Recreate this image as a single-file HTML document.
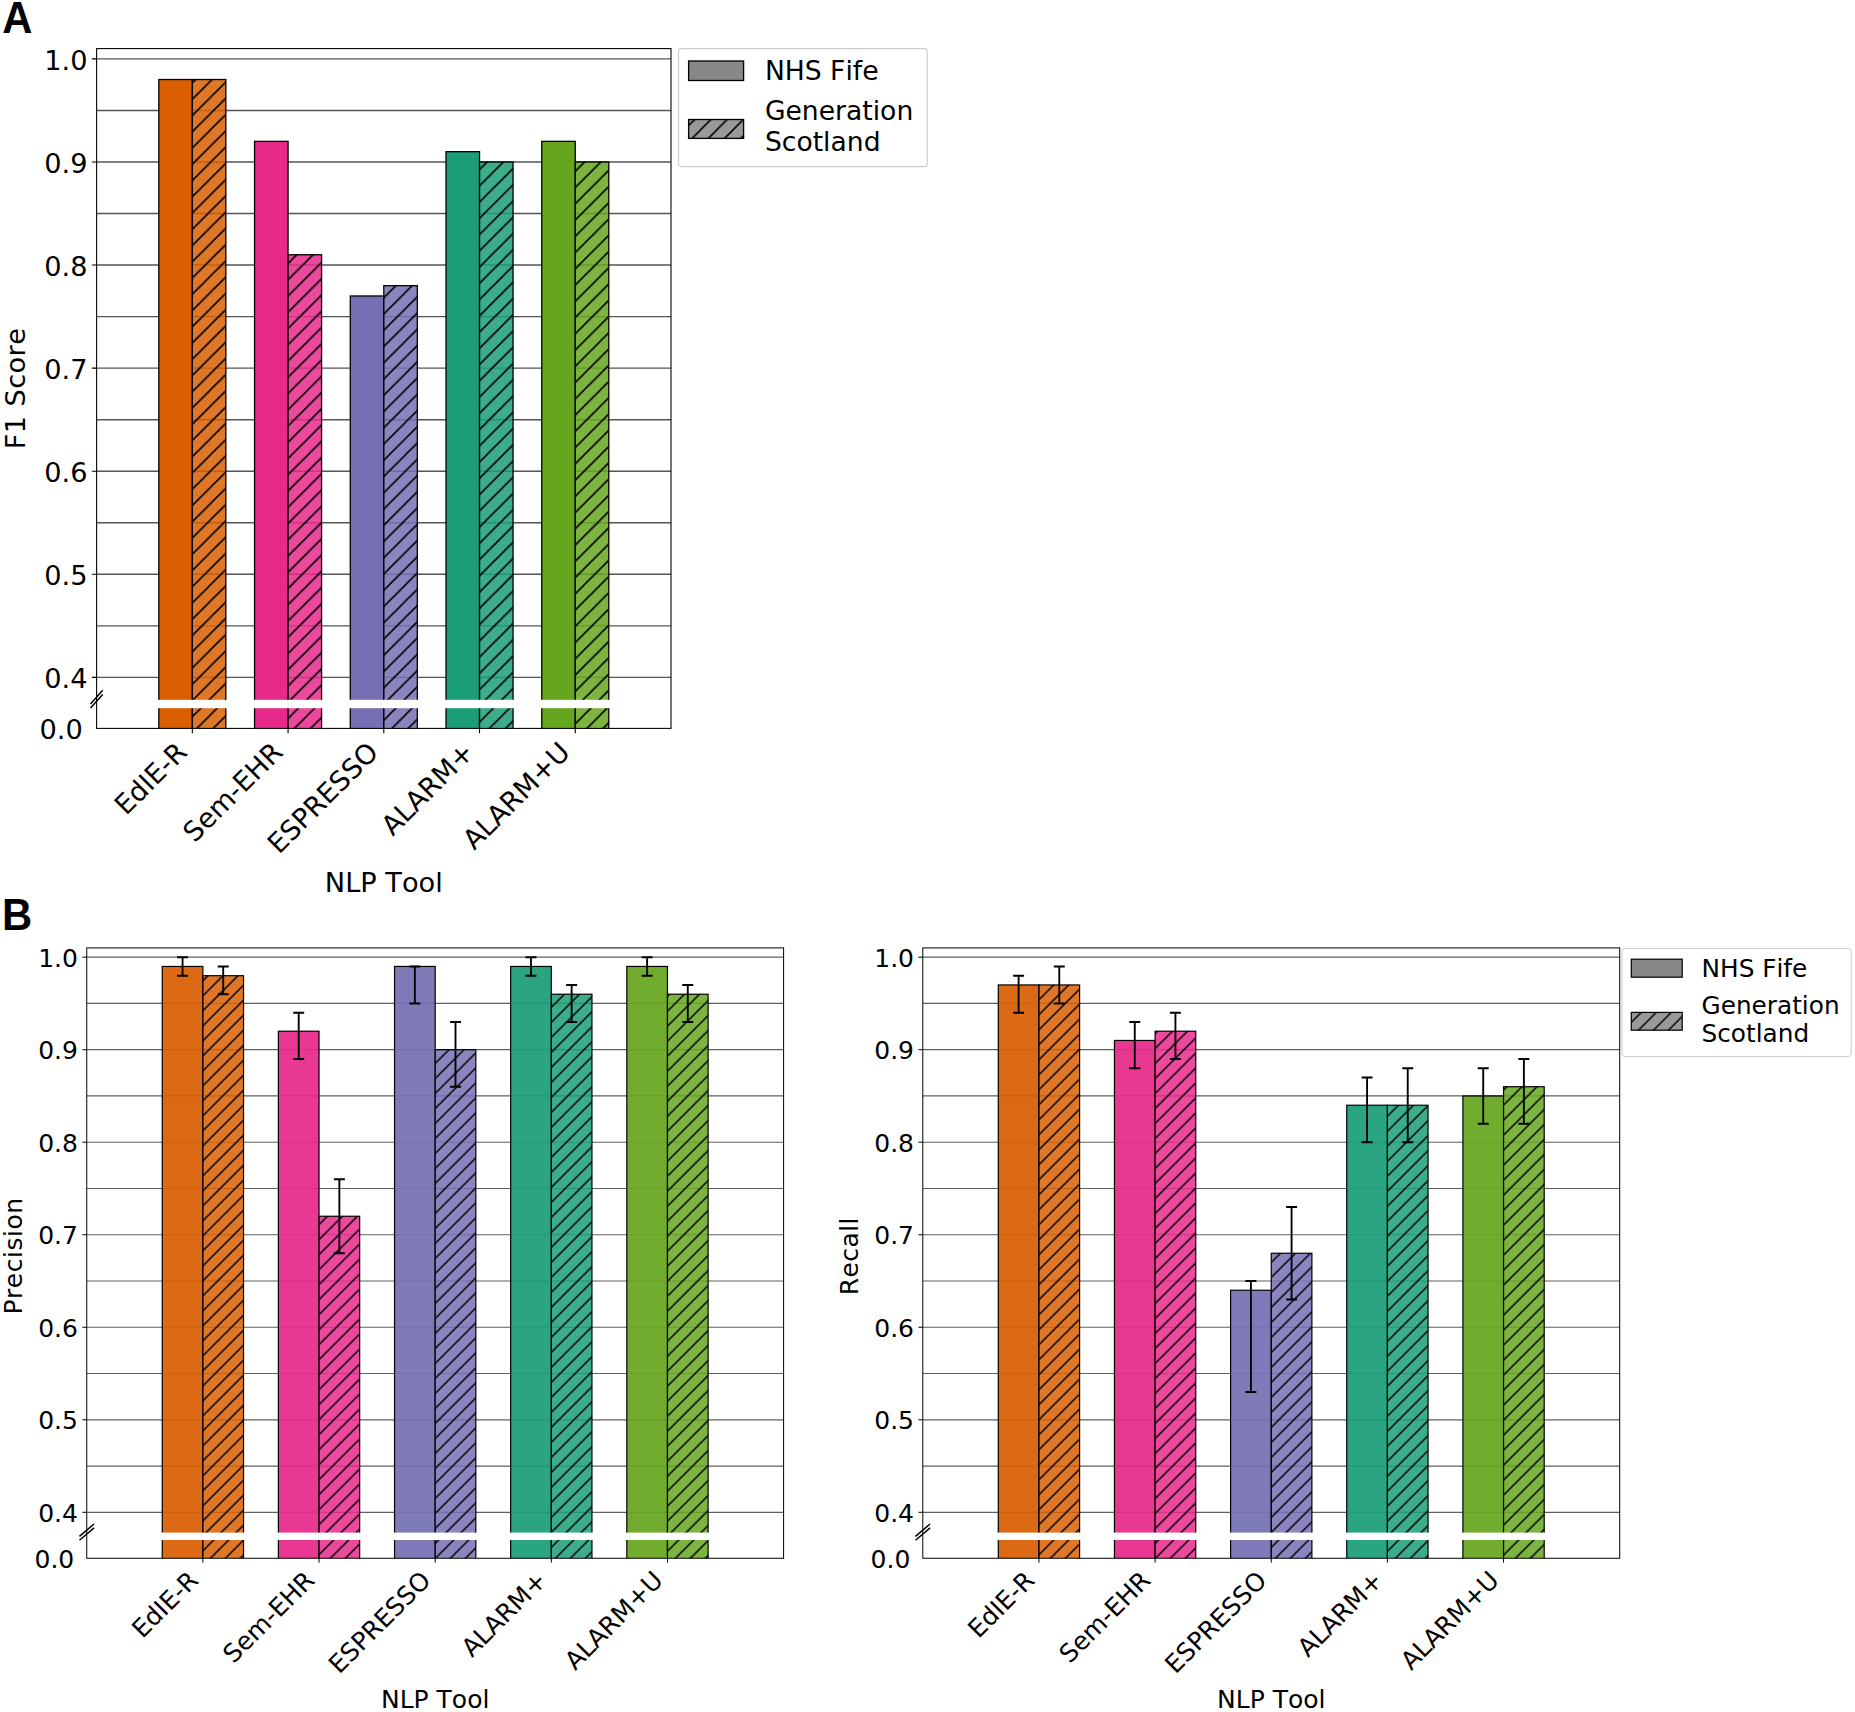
<!DOCTYPE html>
<html lang="en">
<head>
<meta charset="utf-8">
<title>NLP tool performance: F1, precision and recall</title>
<style>
html,body{margin:0;padding:0;background:#fff;}
body{width:1855px;height:1712px;overflow:hidden;}
svg{display:block;}
svg text{font-family:"DejaVu Sans", "Liberation Sans", sans-serif;fill:#000;font-kerning:none;}
</style>
</head>
<body>
<svg width="1855" height="1712" viewBox="0 0 1855 1712">
<defs>
<clipPath id="clip-pA"><rect x="96.6" y="48.6" width="574.4" height="679.8"/></clipPath>
<pattern id="hatch-pA" patternUnits="userSpaceOnUse" x="15.32" y="0" width="16.25" height="16.25"><path d="M-16.25 16.25 L16.25 -16.25 M0 16.25 L16.25 0 M0 32.5 L32.5 0" stroke="#000" stroke-width="1.56" fill="none"/></pattern>
<pattern id="hatch-legA" patternUnits="userSpaceOnUse" x="1.67" y="0" width="16.25" height="16.25"><path d="M-16.25 16.25 L16.25 -16.25 M0 16.25 L16.25 0 M0 32.5 L32.5 0" stroke="#000" stroke-width="1.56" fill="none"/></pattern>
<clipPath id="clip-pB1"><rect x="86.75" y="947.9" width="696.85" height="610.35"/></clipPath>
<pattern id="hatch-pB1" patternUnits="userSpaceOnUse" x="13.67" y="0" width="15" height="15"><path d="M-15 15 L15 -15 M0 15 L15 0 M0 30 L30 0" stroke="#000" stroke-width="1.44" fill="none"/></pattern>
<clipPath id="clip-pB2"><rect x="922.8" y="947.9" width="696.9" height="610.35"/></clipPath>
<pattern id="hatch-pB2" patternUnits="userSpaceOnUse" x="13.67" y="0" width="15" height="15"><path d="M-15 15 L15 -15 M0 15 L15 0 M0 30 L30 0" stroke="#000" stroke-width="1.44" fill="none"/></pattern>
<pattern id="hatch-legB" patternUnits="userSpaceOnUse" x="13.67" y="0" width="15" height="15"><path d="M-15 15 L15 -15 M0 15 L15 0 M0 30 L30 0" stroke="#000" stroke-width="1.44" fill="none"/></pattern>
</defs>
<rect x="0" y="0" width="1855" height="1712" fill="#fff"/>
<g id="pA">
<g clip-path="url(#clip-pA)">
<path d="M96.6 677.38H671 M96.6 625.84H671 M96.6 574.3H671 M96.6 522.76H671 M96.6 471.22H671 M96.6 419.68H671 M96.6 368.14H671 M96.6 316.6H671 M96.6 265.06H671 M96.6 213.52H671 M96.6 161.98H671 M96.6 110.44H671 M96.6 58.9H671" stroke="#555" stroke-width="1.39" fill="none"/>
<rect x="158.83" y="79.52" width="33.51" height="653.88" fill="#D95F02" fill-opacity="1" stroke="none"/>
<rect x="158.83" y="79.52" width="33.51" height="653.88" fill="none" stroke="#000" stroke-width="1.29"/>
<rect x="192.33" y="79.52" width="33.51" height="653.88" fill="#D95F02" fill-opacity="0.85" stroke="none"/>
<rect x="192.33" y="79.52" width="33.51" height="653.88" fill="url(#hatch-pA)" stroke="#000" stroke-width="1.29"/>
<rect x="254.56" y="141.36" width="33.51" height="592.04" fill="#E7298A" fill-opacity="1" stroke="none"/>
<rect x="254.56" y="141.36" width="33.51" height="592.04" fill="none" stroke="#000" stroke-width="1.29"/>
<rect x="288.07" y="254.75" width="33.51" height="478.65" fill="#E7298A" fill-opacity="0.85" stroke="none"/>
<rect x="288.07" y="254.75" width="33.51" height="478.65" fill="url(#hatch-pA)" stroke="#000" stroke-width="1.29"/>
<rect x="350.29" y="295.98" width="33.51" height="437.42" fill="#7570B3" fill-opacity="1" stroke="none"/>
<rect x="350.29" y="295.98" width="33.51" height="437.42" fill="none" stroke="#000" stroke-width="1.29"/>
<rect x="383.8" y="285.68" width="33.51" height="447.72" fill="#7570B3" fill-opacity="0.85" stroke="none"/>
<rect x="383.8" y="285.68" width="33.51" height="447.72" fill="url(#hatch-pA)" stroke="#000" stroke-width="1.29"/>
<rect x="446.03" y="151.67" width="33.51" height="581.73" fill="#1B9E77" fill-opacity="1" stroke="none"/>
<rect x="446.03" y="151.67" width="33.51" height="581.73" fill="none" stroke="#000" stroke-width="1.29"/>
<rect x="479.53" y="161.98" width="33.51" height="571.42" fill="#1B9E77" fill-opacity="0.85" stroke="none"/>
<rect x="479.53" y="161.98" width="33.51" height="571.42" fill="url(#hatch-pA)" stroke="#000" stroke-width="1.29"/>
<rect x="541.76" y="141.36" width="33.51" height="592.04" fill="#66A61E" fill-opacity="1" stroke="none"/>
<rect x="541.76" y="141.36" width="33.51" height="592.04" fill="none" stroke="#000" stroke-width="1.29"/>
<rect x="575.27" y="161.98" width="33.51" height="571.42" fill="#66A61E" fill-opacity="0.85" stroke="none"/>
<rect x="575.27" y="161.98" width="33.51" height="571.42" fill="url(#hatch-pA)" stroke="#000" stroke-width="1.29"/>
<rect x="96.6" y="699.8" width="574.4" height="8.4" fill="#fff"/>
</g>
<rect x="96.6" y="48.6" width="574.4" height="679.8" fill="none" stroke="#000" stroke-width="1.08"/>
<path d="M96.6 677.38H91.86 M96.6 574.3H91.86 M96.6 471.22H91.86 M96.6 368.14H91.86 M96.6 265.06H91.86 M96.6 161.98H91.86 M96.6 58.9H91.86 M192.33 728.4V733.14 M288.07 728.4V733.14 M383.8 728.4V733.14 M479.53 728.4V733.14 M575.27 728.4V733.14" stroke="#000" stroke-width="1.08" fill="none"/>
<path d="M90.5 703.9L102.7 690.3 M90.5 708.1L102.7 694.5" stroke="#000" stroke-width="1.5" fill="none"/>
<g font-size="27.2" text-anchor="end">
<text x="87.5" y="687.98">0.4</text>
<text x="87.5" y="584.9">0.5</text>
<text x="87.5" y="481.82">0.6</text>
<text x="87.5" y="378.74">0.7</text>
<text x="87.5" y="275.66">0.8</text>
<text x="87.5" y="172.58">0.9</text>
<text x="87.5" y="69.5">1.0</text>
<text x="82.8" y="739">0.0</text>
<text transform="translate(188.53 753.9) rotate(-45)">EdIE-R</text>
<text transform="translate(284.27 753.9) rotate(-45)">Sem-EHR</text>
<text transform="translate(380 753.9) rotate(-45)">ESPRESSO</text>
<text transform="translate(475.73 753.9) rotate(-45)">ALARM+</text>
<text transform="translate(571.47 753.9) rotate(-45)">ALARM+U</text>
</g>
<text font-size="27.2" text-anchor="middle" x="383.8" y="892.3">NLP Tool</text>
<text font-size="27.2" text-anchor="middle" letter-spacing="0.4" transform="translate(24.7 388.5) rotate(-90)">F1 Score</text>
</g>
<g id="legend-A">
<rect x="678.6" y="48.6" width="248.7" height="118" rx="3.12" fill="#fff" fill-opacity="0.8" stroke="#ccc" stroke-width="1.08"/>
<rect x="688.6" y="61" width="55" height="19.5" fill="#888" stroke="#000" stroke-width="1.32"/>
<rect x="688.6" y="119.5" width="55" height="18.9" fill="#999" stroke="none"/>
<rect x="688.6" y="119.5" width="55" height="18.9" fill="url(#hatch-legA)" stroke="#000" stroke-width="1.32"/>
<g font-size="26.6">
<text x="764.9" y="80.1">NHS Fife</text>
<text x="764.9" y="119.8">Generation</text>
<text x="764.9" y="151.2">Scotland</text>
</g></g>
<g id="pB1">
<g clip-path="url(#clip-pB1)">
<path d="M86.75 1512.29H783.6 M86.75 1466.03H783.6 M86.75 1419.78H783.6 M86.75 1373.52H783.6 M86.75 1327.26H783.6 M86.75 1281H783.6 M86.75 1234.74H783.6 M86.75 1188.49H783.6 M86.75 1142.23H783.6 M86.75 1095.97H783.6 M86.75 1049.71H783.6 M86.75 1003.46H783.6 M86.75 957.2H783.6" stroke="#606060" stroke-width="1.2" fill="none"/>
<rect x="162.24" y="966.45" width="40.65" height="596.8" fill="#D95F02" fill-opacity="0.93" stroke="none"/>
<rect x="162.24" y="966.45" width="40.65" height="596.8" fill="none" stroke="#000" stroke-width="1.19"/>
<rect x="202.89" y="975.7" width="40.65" height="587.55" fill="#D95F02" fill-opacity="0.85" stroke="none"/>
<rect x="202.89" y="975.7" width="40.65" height="587.55" fill="url(#hatch-pB1)" stroke="#000" stroke-width="1.19"/>
<rect x="278.38" y="1031.21" width="40.65" height="532.04" fill="#E7298A" fill-opacity="0.93" stroke="none"/>
<rect x="278.38" y="1031.21" width="40.65" height="532.04" fill="none" stroke="#000" stroke-width="1.19"/>
<rect x="319.03" y="1216.24" width="40.65" height="347.01" fill="#E7298A" fill-opacity="0.85" stroke="none"/>
<rect x="319.03" y="1216.24" width="40.65" height="347.01" fill="url(#hatch-pB1)" stroke="#000" stroke-width="1.19"/>
<rect x="394.53" y="966.45" width="40.65" height="596.8" fill="#7570B3" fill-opacity="0.93" stroke="none"/>
<rect x="394.53" y="966.45" width="40.65" height="596.8" fill="none" stroke="#000" stroke-width="1.19"/>
<rect x="435.18" y="1049.72" width="40.65" height="513.53" fill="#7570B3" fill-opacity="0.85" stroke="none"/>
<rect x="435.18" y="1049.72" width="40.65" height="513.53" fill="url(#hatch-pB1)" stroke="#000" stroke-width="1.19"/>
<rect x="510.67" y="966.45" width="40.65" height="596.8" fill="#1B9E77" fill-opacity="0.93" stroke="none"/>
<rect x="510.67" y="966.45" width="40.65" height="596.8" fill="none" stroke="#000" stroke-width="1.19"/>
<rect x="551.32" y="994.21" width="40.65" height="569.04" fill="#1B9E77" fill-opacity="0.85" stroke="none"/>
<rect x="551.32" y="994.21" width="40.65" height="569.04" fill="url(#hatch-pB1)" stroke="#000" stroke-width="1.19"/>
<rect x="626.81" y="966.45" width="40.65" height="596.8" fill="#66A61E" fill-opacity="0.93" stroke="none"/>
<rect x="626.81" y="966.45" width="40.65" height="596.8" fill="none" stroke="#000" stroke-width="1.19"/>
<rect x="667.46" y="994.21" width="40.65" height="569.04" fill="#66A61E" fill-opacity="0.85" stroke="none"/>
<rect x="667.46" y="994.21" width="40.65" height="569.04" fill="url(#hatch-pB1)" stroke="#000" stroke-width="1.19"/>
<rect x="86.75" y="1532.6" width="696.85" height="7.4" fill="#fff"/>
<path d="M182.57 957.2V975.7 M177.08 957.2H188.06 M177.08 975.7H188.06 M223.22 966.45V994.21 M217.73 966.45H228.71 M217.73 994.21H228.71 M298.71 1012.71V1058.97 M293.22 1012.71H304.2 M293.22 1058.97H304.2 M339.36 1179.24V1253.25 M333.87 1179.24H344.85 M333.87 1253.25H344.85 M414.85 966.45V1003.46 M409.36 966.45H420.34 M409.36 1003.46H420.34 M455.5 1021.96V1086.72 M450.01 1021.96H460.99 M450.01 1086.72H460.99 M530.99 957.2V975.7 M525.5 957.2H536.48 M525.5 975.7H536.48 M571.64 984.95V1021.96 M566.15 984.95H577.13 M566.15 1021.96H577.13 M647.13 957.2V975.7 M641.64 957.2H652.62 M641.64 975.7H652.62 M687.78 984.95V1021.96 M682.29 984.95H693.27 M682.29 1021.96H693.27" stroke="#000" stroke-width="1.87" fill="none"/>
</g>
<rect x="86.75" y="947.9" width="696.85" height="610.35" fill="none" stroke="#000" stroke-width="1"/>
<path d="M86.75 1512.29H82.38 M86.75 1419.78H82.38 M86.75 1327.26H82.38 M86.75 1234.74H82.38 M86.75 1142.23H82.38 M86.75 1049.72H82.38 M86.75 957.2H82.38 M202.89 1558.25V1562.62 M319.03 1558.25V1562.62 M435.18 1558.25V1562.62 M551.32 1558.25V1562.62 M667.46 1558.25V1562.62" stroke="#000" stroke-width="1" fill="none"/>
<path d="M79.45 1536.35L94.05 1523.95 M79.45 1540.25L94.05 1527.85" stroke="#000" stroke-width="1.5" fill="none"/>
<g font-size="25" text-anchor="end">
<text x="77.95" y="1521.79">0.4</text>
<text x="77.95" y="1429.28">0.5</text>
<text x="77.95" y="1336.76">0.6</text>
<text x="77.95" y="1244.24">0.7</text>
<text x="77.95" y="1151.73">0.8</text>
<text x="77.95" y="1059.22">0.9</text>
<text x="77.95" y="966.7">1.0</text>
<text x="74.25" y="1568.25">0.0</text>
<text transform="translate(199.89 1581.85) rotate(-45)">EdIE-R</text>
<text transform="translate(316.03 1581.85) rotate(-45)">Sem-EHR</text>
<text transform="translate(432.18 1581.85) rotate(-45)">ESPRESSO</text>
<text transform="translate(548.32 1581.85) rotate(-45)">ALARM+</text>
<text transform="translate(664.46 1581.85) rotate(-45)">ALARM+U</text>
</g>
<text font-size="25" text-anchor="middle" x="435.18" y="1708">NLP Tool</text>
<text font-size="25" text-anchor="middle" letter-spacing="0.5" transform="translate(22.3 1256) rotate(-90)">Precision</text>
</g>
<g id="pB2">
<g clip-path="url(#clip-pB2)">
<path d="M922.8 1512.29H1619.7 M922.8 1466.03H1619.7 M922.8 1419.78H1619.7 M922.8 1373.52H1619.7 M922.8 1327.26H1619.7 M922.8 1281H1619.7 M922.8 1234.74H1619.7 M922.8 1188.49H1619.7 M922.8 1142.23H1619.7 M922.8 1095.97H1619.7 M922.8 1049.71H1619.7 M922.8 1003.46H1619.7 M922.8 957.2H1619.7" stroke="#606060" stroke-width="1.2" fill="none"/>
<rect x="998.3" y="984.95" width="40.65" height="578.3" fill="#D95F02" fill-opacity="0.93" stroke="none"/>
<rect x="998.3" y="984.95" width="40.65" height="578.3" fill="none" stroke="#000" stroke-width="1.19"/>
<rect x="1038.95" y="984.95" width="40.65" height="578.3" fill="#D95F02" fill-opacity="0.85" stroke="none"/>
<rect x="1038.95" y="984.95" width="40.65" height="578.3" fill="url(#hatch-pB2)" stroke="#000" stroke-width="1.19"/>
<rect x="1114.45" y="1040.46" width="40.65" height="522.79" fill="#E7298A" fill-opacity="0.93" stroke="none"/>
<rect x="1114.45" y="1040.46" width="40.65" height="522.79" fill="none" stroke="#000" stroke-width="1.19"/>
<rect x="1155.1" y="1031.21" width="40.65" height="532.04" fill="#E7298A" fill-opacity="0.85" stroke="none"/>
<rect x="1155.1" y="1031.21" width="40.65" height="532.04" fill="url(#hatch-pB2)" stroke="#000" stroke-width="1.19"/>
<rect x="1230.6" y="1290.25" width="40.65" height="273" fill="#7570B3" fill-opacity="0.93" stroke="none"/>
<rect x="1230.6" y="1290.25" width="40.65" height="273" fill="none" stroke="#000" stroke-width="1.19"/>
<rect x="1271.25" y="1253.25" width="40.65" height="310" fill="#7570B3" fill-opacity="0.85" stroke="none"/>
<rect x="1271.25" y="1253.25" width="40.65" height="310" fill="url(#hatch-pB2)" stroke="#000" stroke-width="1.19"/>
<rect x="1346.75" y="1105.22" width="40.65" height="458.03" fill="#1B9E77" fill-opacity="0.93" stroke="none"/>
<rect x="1346.75" y="1105.22" width="40.65" height="458.03" fill="none" stroke="#000" stroke-width="1.19"/>
<rect x="1387.4" y="1105.22" width="40.65" height="458.03" fill="#1B9E77" fill-opacity="0.85" stroke="none"/>
<rect x="1387.4" y="1105.22" width="40.65" height="458.03" fill="url(#hatch-pB2)" stroke="#000" stroke-width="1.19"/>
<rect x="1462.9" y="1095.97" width="40.65" height="467.28" fill="#66A61E" fill-opacity="0.93" stroke="none"/>
<rect x="1462.9" y="1095.97" width="40.65" height="467.28" fill="none" stroke="#000" stroke-width="1.19"/>
<rect x="1503.55" y="1086.72" width="40.65" height="476.53" fill="#66A61E" fill-opacity="0.85" stroke="none"/>
<rect x="1503.55" y="1086.72" width="40.65" height="476.53" fill="url(#hatch-pB2)" stroke="#000" stroke-width="1.19"/>
<rect x="922.8" y="1532.6" width="696.9" height="7.4" fill="#fff"/>
<path d="M1018.62 975.7V1012.71 M1013.13 975.7H1024.11 M1013.13 1012.71H1024.11 M1059.28 966.45V1003.46 M1053.79 966.45H1064.77 M1053.79 1003.46H1064.77 M1134.77 1021.96V1068.22 M1129.28 1021.96H1140.26 M1129.28 1068.22H1140.26 M1175.43 1012.71V1058.97 M1169.94 1012.71H1180.92 M1169.94 1058.97H1180.92 M1250.92 1281V1392.02 M1245.43 1281H1256.41 M1245.43 1392.02H1256.41 M1291.58 1206.99V1299.51 M1286.09 1206.99H1297.07 M1286.09 1299.51H1297.07 M1367.07 1077.47V1142.23 M1361.58 1077.47H1372.56 M1361.58 1142.23H1372.56 M1407.73 1068.22V1142.23 M1402.24 1068.22H1413.22 M1402.24 1142.23H1413.22 M1483.22 1068.22V1123.73 M1477.73 1068.22H1488.71 M1477.73 1123.73H1488.71 M1523.88 1058.97V1123.73 M1518.39 1058.97H1529.37 M1518.39 1123.73H1529.37" stroke="#000" stroke-width="1.87" fill="none"/>
</g>
<rect x="922.8" y="947.9" width="696.9" height="610.35" fill="none" stroke="#000" stroke-width="1"/>
<path d="M922.8 1512.29H918.43 M922.8 1419.78H918.43 M922.8 1327.26H918.43 M922.8 1234.74H918.43 M922.8 1142.23H918.43 M922.8 1049.72H918.43 M922.8 957.2H918.43 M1038.95 1558.25V1562.62 M1155.1 1558.25V1562.62 M1271.25 1558.25V1562.62 M1387.4 1558.25V1562.62 M1503.55 1558.25V1562.62" stroke="#000" stroke-width="1" fill="none"/>
<path d="M915.5 1536.35L930.1 1523.95 M915.5 1540.25L930.1 1527.85" stroke="#000" stroke-width="1.5" fill="none"/>
<g font-size="25" text-anchor="end">
<text x="914" y="1521.79">0.4</text>
<text x="914" y="1429.28">0.5</text>
<text x="914" y="1336.76">0.6</text>
<text x="914" y="1244.24">0.7</text>
<text x="914" y="1151.73">0.8</text>
<text x="914" y="1059.22">0.9</text>
<text x="914" y="966.7">1.0</text>
<text x="910.3" y="1568.25">0.0</text>
<text transform="translate(1035.95 1581.85) rotate(-45)">EdIE-R</text>
<text transform="translate(1152.1 1581.85) rotate(-45)">Sem-EHR</text>
<text transform="translate(1268.25 1581.85) rotate(-45)">ESPRESSO</text>
<text transform="translate(1384.4 1581.85) rotate(-45)">ALARM+</text>
<text transform="translate(1500.55 1581.85) rotate(-45)">ALARM+U</text>
</g>
<text font-size="25" text-anchor="middle" x="1271.25" y="1708">NLP Tool</text>
<text font-size="25" text-anchor="middle" letter-spacing="0.4" transform="translate(858.3 1256.2) rotate(-90)">Recall</text>
</g>
<g id="legend-B">
<rect x="1622" y="948.5" width="229.2" height="108.1" rx="2.88" fill="#fff" fill-opacity="0.8" stroke="#ccc" stroke-width="1"/>
<rect x="1631.3" y="959.2" width="50.9" height="18" fill="#888" stroke="#000" stroke-width="1.22"/>
<rect x="1631.3" y="1012.4" width="50.9" height="17.8" fill="#999" stroke="none"/>
<rect x="1631.3" y="1012.4" width="50.9" height="17.8" fill="url(#hatch-legB)" stroke="#000" stroke-width="1.22"/>
<g font-size="24.75">
<text x="1701.5" y="976.8">NHS Fife</text>
<text x="1701.5" y="1013.6">Generation</text>
<text x="1701.5" y="1041.9">Scotland</text>
</g></g>
<text transform="translate(2.2 32.9) scale(0.95 1)" font-size="44" font-weight="bold" style="font-family:'Liberation Sans', 'DejaVu Sans', sans-serif">A</text>
<text transform="translate(2.1 930.0) scale(0.95 1)" font-size="44" font-weight="bold" style="font-family:'Liberation Sans', 'DejaVu Sans', sans-serif">B</text>
</svg>
</body>
</html>
